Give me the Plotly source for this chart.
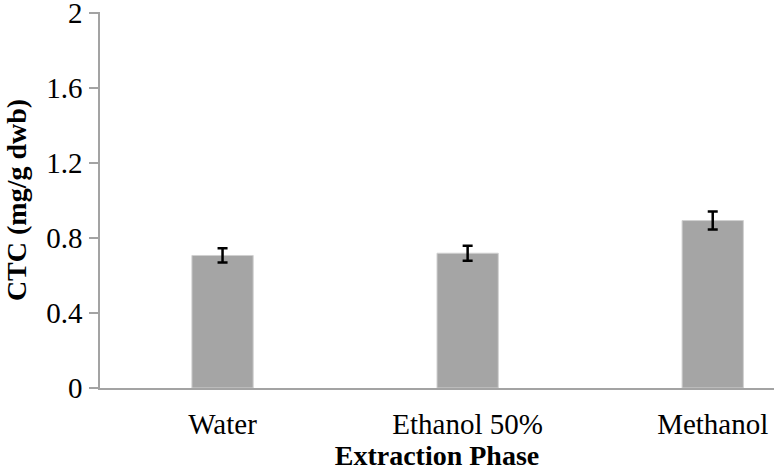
import plotly.graph_objects as go

categories = ["Water", "Ethanol 50%", "Methanol"]
ctc_values = [0.706, 0.718, 0.892]
ctc_errors = [0.038, 0.040, 0.048]
y_tick_values = [0, 0.4, 0.8, 1.2, 1.6, 2]
y_tick_labels = ["0", "0.4", "0.8", "1.2", "1.6", "2"]

FONT = "Liberation Serif, Times New Roman, serif"
AXIS_GRAY = "#A3A3A3"

fig = go.Figure()
fig.add_trace(go.Bar(
    x=categories,
    y=ctc_values,
    width=0.25,
    marker=dict(color="#A5A5A5", line=dict(color="#D0D0D0", width=1)),
    error_y=dict(type="data", array=ctc_errors, visible=True,
                 color="black", thickness=2.5, width=5),
    showlegend=False,
))

fig.update_layout(
    width=774, height=476,
    margin=dict(l=100, r=0, t=12, b=88),
    paper_bgcolor="white", plot_bgcolor="white",
    font=dict(family=FONT, size=29, color="black"),
    xaxis=dict(
        type="category",
        range=[-0.5, 2.25],
        automargin=False,
        showline=True, linecolor=AXIS_GRAY, linewidth=1.5,
        ticks="", showgrid=False, zeroline=False,
        tickfont=dict(family=FONT, size=29, color="black"),
        ticklabelstandoff=9,
        ticklabeloverflow="allow",
        title=dict(text="<b>Extraction Phase</b>",
                   font=dict(family=FONT, size=28, color="black"),
                   standoff=4),
    ),
    yaxis=dict(
        range=[0, 2.003],
        automargin=False,
        tickvals=y_tick_values, ticktext=y_tick_labels,
        showline=True, linecolor=AXIS_GRAY, linewidth=1.5,
        ticks="outside", ticklen=9, tickcolor=AXIS_GRAY, tickwidth=1.5,
        showgrid=False, zeroline=False,
        tickfont=dict(family=FONT, size=29, color="black"),
        ticklabelstandoff=1,
        ticklabeloverflow="allow",
        title=dict(text="<b>CTC (mg/g dwb)</b>",
                   font=dict(family=FONT, size=28, color="black"),
                   standoff=11),
    ),
)

fig.write_html(
    "out.html",
    config={"displayModeBar": False},
    post_script="document.body.style.margin='0';document.body.style.padding='0';",
)
